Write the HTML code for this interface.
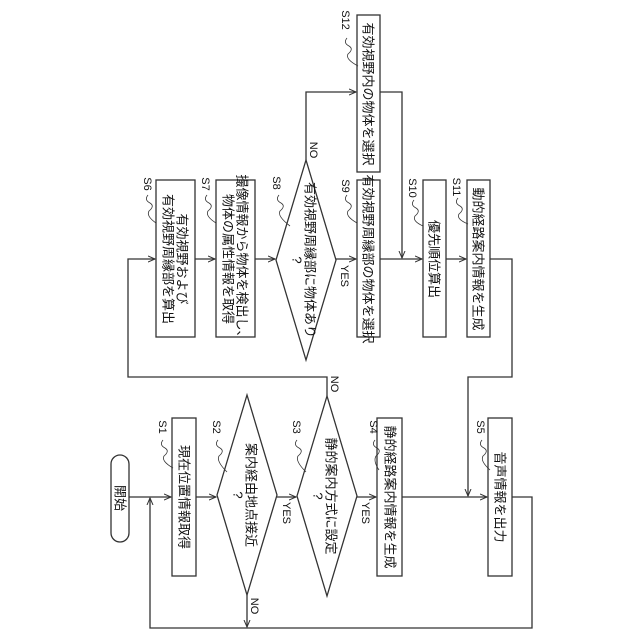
<!DOCTYPE html>
<html><head><meta charset="utf-8"><style>html,body{margin:0;padding:0;background:#fff}svg{display:block}text{font-family:"Liberation Sans","Noto Sans CJK JP",sans-serif;fill:#111}</style></head><body>
<svg width="640" height="640" viewBox="0 0 640 640" xmlns="http://www.w3.org/2000/svg">
<defs><marker id="a" markerWidth="8" markerHeight="8" refX="7" refY="4" orient="auto" markerUnits="userSpaceOnUse"><path d="M0,1 L7,4 L0,7" fill="none" stroke="#333" stroke-width="1"/></marker></defs>
<g fill="none" stroke="#333" stroke-width="1.3">
<!-- bottom flow -->
<rect x="111" y="455" width="18" height="87" rx="9"/>
<rect x="172" y="418" width="24" height="158"/>
<polygon points="217,495 247,395 277,495 247,595"/>
<polygon points="297,496 327,396 357,496 327,596"/>
<rect x="377" y="418" width="25" height="158"/>
<rect x="488" y="418" width="24" height="158"/>
<line x1="129" y1="497" x2="171" y2="497" marker-end="url(#a)"/>
<line x1="196" y1="497" x2="216" y2="497" marker-end="url(#a)"/>
<line x1="277" y1="497" x2="296" y2="497" marker-end="url(#a)"/>
<line x1="357" y1="497" x2="376" y2="497" marker-end="url(#a)"/>
<line x1="402" y1="497" x2="487" y2="497" marker-end="url(#a)"/>
<polyline points="512,497 532,497 532,628 150,628 150,498" marker-end="url(#a)"/>
<line x1="247" y1="595" x2="247" y2="627" marker-end="url(#a)"/>
<polyline points="327,396 327,377 128,377 128,259 155,259" marker-end="url(#a)"/>
<polyline points="490,259 512,259 512,377 468,377 468,496" marker-end="url(#a)"/>
<!-- top flow -->
<rect x="156" y="180" width="39" height="157"/>
<rect x="216" y="180" width="39" height="157"/>
<polygon points="276,260 306,160 336,260 306,360"/>
<rect x="357" y="180" width="23" height="157"/>
<rect x="357" y="15" width="23" height="157"/>
<rect x="423" y="180" width="23" height="157"/>
<rect x="467" y="180" width="23" height="157"/>
<line x1="195" y1="259" x2="215" y2="259" marker-end="url(#a)"/>
<line x1="255" y1="259" x2="275" y2="259" marker-end="url(#a)"/>
<line x1="336" y1="259" x2="356" y2="259" marker-end="url(#a)"/>
<line x1="380" y1="259" x2="422" y2="259" marker-end="url(#a)"/>
<line x1="446" y1="259" x2="466" y2="259" marker-end="url(#a)"/>
<polyline points="306,160 306,92 356,92" marker-end="url(#a)"/>
<polyline points="380,92 402,92 402,258" marker-end="url(#a)"/>
<!-- leaders -->
<g stroke-width="0.8">
<path d="M148,195 q-4,5 2,8 q5,3 -1,8 q-3,5 7,12"/>
<path d="M207,195 q-4,5 2,8 q5,3 -1,8 q-3,5 8,12"/>
<path d="M279,195 q-4,5 2,8 q5,3 -1,8 q-3,5 10,15"/>
<path d="M347,195 q-4,5 2,8 q5,3 -1,8 q-3,5 9,12"/>
<path d="M414,200 q-4,5 2,8 q5,3 -1,8 q-3,5 8,10"/>
<path d="M458,198 q-4,5 2,8 q5,3 -1,8 q-3,5 9,10"/>
<path d="M347,38 q-4,5 2,8 q5,3 -1,8 q-3,5 10,12"/>
<path d="M163,440 q-4,5 2,8 q5,3 -1,8 q-3,5 9,12"/>
<path d="M218,440 q-4,5 2,8 q5,3 -1,8 q-3,5 8,16"/>
<path d="M297,440 q-4,5 2,8 q5,3 -1,8 q-3,5 8,16"/>
<path d="M375,440 q-4,5 2,8 q5,3 -1,8 q-3,5 3,14"/>
<path d="M482,440 q-4,5 2,8 q5,3 -1,8 q-3,5 7,14"/>
</g>
</g>
<g font-size="13" dominant-baseline="central" text-anchor="middle">
<text transform="translate(120,498) rotate(90)">開始</text>
<text transform="translate(184,497) rotate(90)">現在位置情報取得</text>
<text transform="translate(251,495) rotate(90)">案内経由地点接近</text>
<text transform="translate(238,495) rotate(90)">?</text>
<text transform="translate(331,496) rotate(90)">静的案内方式に設定</text>
<text transform="translate(318,496) rotate(90)">?</text>
<text transform="translate(390,497) rotate(90)">静的経路案内情報を生成</text>
<text transform="translate(500,497) rotate(90)">音声情報を出力</text>
<text transform="translate(182,259) rotate(90)">有効視野および</text>
<text transform="translate(168,259) rotate(90)">有効視野周縁部を算出</text>
<text transform="translate(242,259) rotate(90)">撮像情報から物体を検出し、</text>
<text transform="translate(228,259) rotate(90)">物体の属性情報を取得</text>
<text transform="translate(310,260) rotate(90)">有効視野周縁部に物体あり</text>
<text transform="translate(297,260) rotate(90)">?</text>
<text transform="translate(368,259) rotate(90)">有効視野周縁部の物体を選択</text>
<text transform="translate(368,94) rotate(90)">有効視野内の物体を選択</text>
<text transform="translate(434,259) rotate(90)">優先順位算出</text>
<text transform="translate(478,259) rotate(90)">動的経路案内情報を生成</text>
</g>
<g font-size="11" dominant-baseline="central" text-anchor="middle">
<text transform="translate(147,184) rotate(90)">S6</text>
<text transform="translate(205,184) rotate(90)">S7</text>
<text transform="translate(276,183) rotate(90)">S8</text>
<text transform="translate(345,186) rotate(90)">S9</text>
<text transform="translate(412,188) rotate(90)">S10</text>
<text transform="translate(456,187) rotate(90)">S11</text>
<text transform="translate(345,20) rotate(90)">S12</text>
<text transform="translate(162,427) rotate(90)">S1</text>
<text transform="translate(216,427) rotate(90)">S2</text>
<text transform="translate(296,427) rotate(90)">S3</text>
<text transform="translate(373,427) rotate(90)">S4</text>
<text transform="translate(480,427) rotate(90)">S5</text>
<text transform="translate(286,513) rotate(90)">YES</text>
<text transform="translate(365,513) rotate(90)">YES</text>
<text transform="translate(344,276) rotate(90)">YES</text>
<text transform="translate(254,606) rotate(90)">NO</text>
<text transform="translate(334,384) rotate(90)">NO</text>
<text transform="translate(313,150) rotate(90)">NO</text>
</g>
</svg>
</body></html>
